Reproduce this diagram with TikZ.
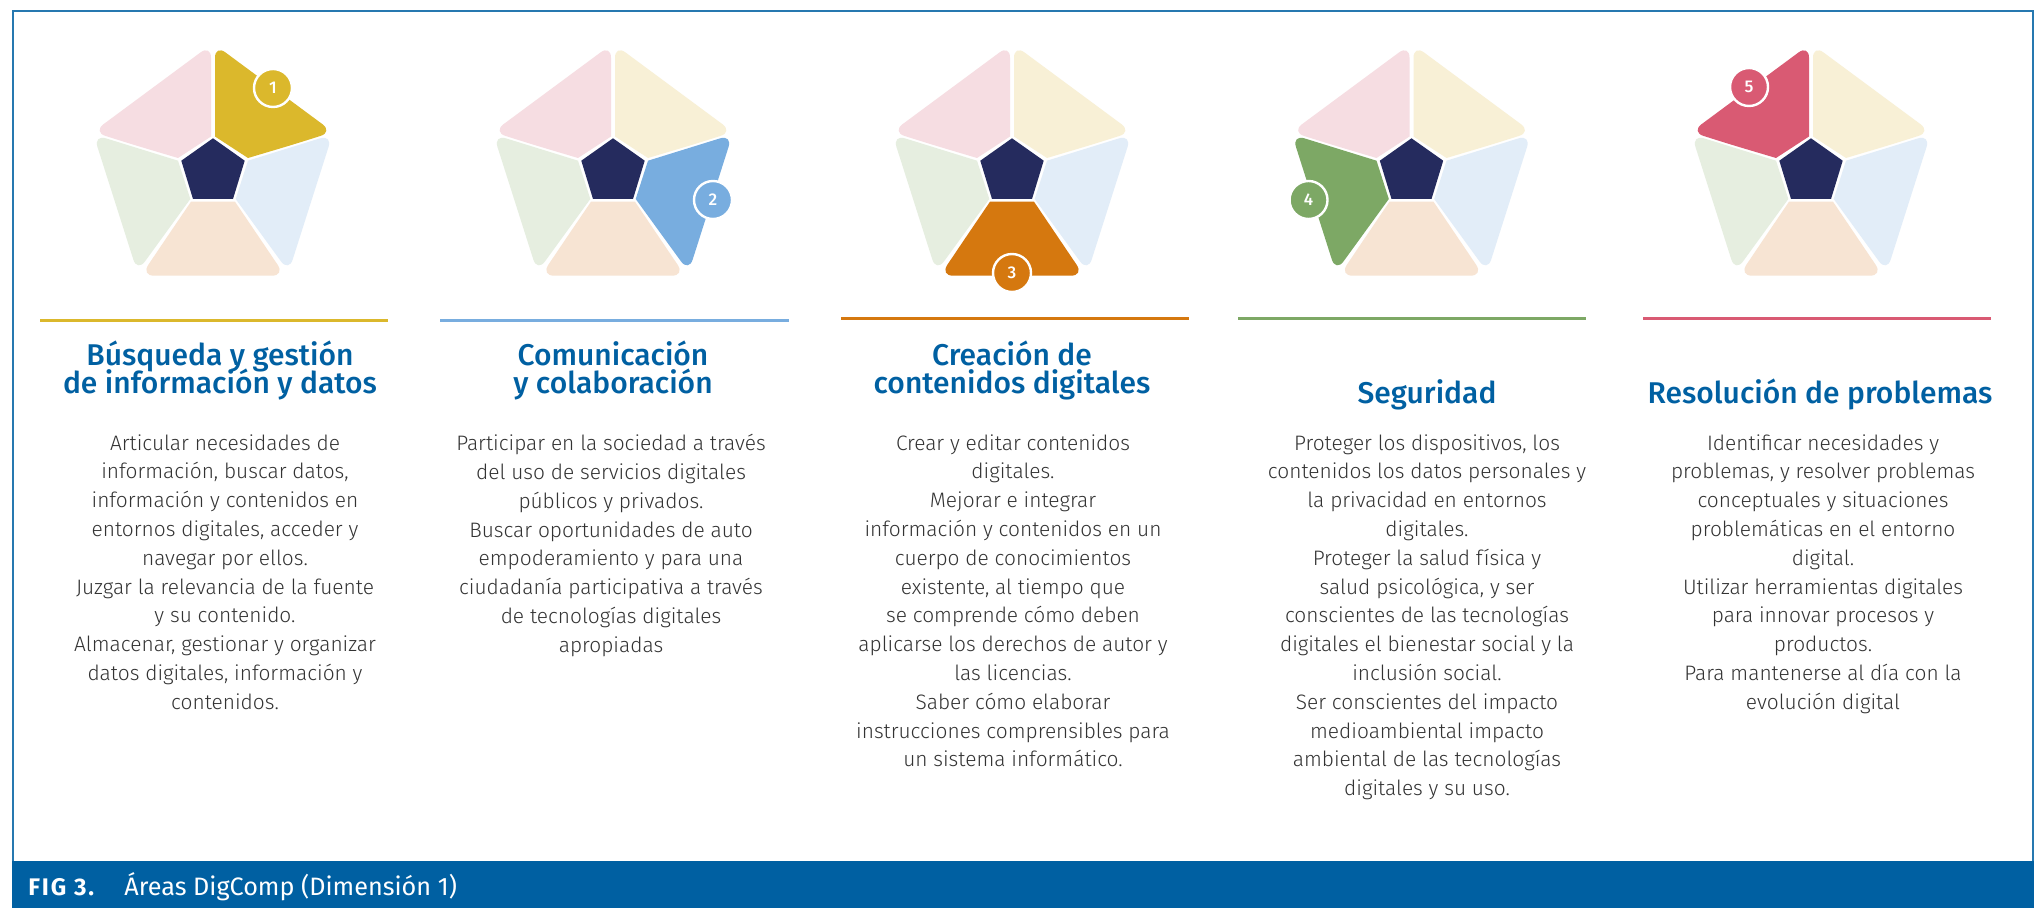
\documentclass[tikz,border=0pt]{standalone}
\usepackage{fontspec}
\setmainfont{Fira Sans Light}
\newfontfamily\regfont{Fira Sans}
\newfontfamily\medfont{Fira Sans Medium}
\newfontfamily\figfont{Fira Sans}[LetterSpace=8]
\setlength{\lineskiplimit}{-20pt}
\definecolor{cA}{HTML}{DBB82C}
\definecolor{cB}{HTML}{78ADDF}
\definecolor{cC}{HTML}{D5780F}
\definecolor{cD}{HTML}{7DA865}
\definecolor{cE}{HTML}{D95A73}
\definecolor{pA}{HTML}{F8F0D6}
\definecolor{pB}{HTML}{E2EDF8}
\definecolor{pC}{HTML}{F7E4D3}
\definecolor{pD}{HTML}{E6EEE0}
\definecolor{pE}{HTML}{F6DDE2}
\definecolor{navy}{HTML}{252B5E}
\definecolor{euBlue}{HTML}{0060A2}
\definecolor{bodyGray}{HTML}{333333}
\tikzset{
  badge/.style={circle,draw=white,line width=1.2pt,minimum size=19pt,inner sep=0pt,text=white,font=\medfont\fontsize{8.5}{9}\selectfont},
  titletext/.style={anchor=north,align=center,inner sep=0pt,text=euBlue,font=\medfont\fontsize{15}{14}\selectfont},
  bodytext/.style={anchor=north,align=center,inner sep=0pt,text=bodyGray,font=\fontsize{10.45}{14.4}\selectfont},
  rulebar/.style={line width=1.3pt},
  round/.style={rounded corners=6.5pt}
}
\newcommand{\icon}[6]{% cx, A,B,C,D,E
 \begin{scope}[xshift=#1*0.5pt]
  \fill[#2] (2,136.5) [round] -- (2,44.7) -- (120,132) -- (80,144.6) [sharp corners] -- (35,158) -- cycle;
  \fill[#3] (35,160.7) [round] -- (119.5,134.5) -- (75.7,272) -- (50,236.6) [sharp corners] -- (22.7,199) -- cycle;
  \fill[#4] (22,201.7) [round] -- (72,275.7) -- (-72,275.7) -- (-50,243) [sharp corners] -- (-22,201.7) -- cycle;
  \fill[#5] (-35,160.7) [round] -- (-119.5,134.5) -- (-75.7,272) -- (-50,236.6) [sharp corners] -- (-22.7,199) -- cycle;
  \fill[#6] (-2,136.5) [round] -- (-2,44.7) -- (-120,132) -- (-80,144.6) [sharp corners] -- (-35,158) -- cycle;
  \fill[navy] (0,138.3) -- (31.7,160.7) -- (20,199) -- (-20,199) -- (-31.7,160.7) -- cycle;
 \end{scope}}
\begin{document}
\begin{tikzpicture}[x=0.5pt,y=-0.5pt]
\useasboundingbox (0,0) rectangle (2038,908);
\fill[white] (0,0) rectangle (2038,908);
\draw[color=euBlue!85!white,line width=1pt] (13,11) rectangle (2033,870);
\fill[euBlue] (12,861) rectangle (2033.5,908);
\node[anchor=base west,inner sep=0pt,text=white,font=\figfont\bfseries\fontsize{12}{14}\selectfont] (figlab) at (28,895) {FIG 3.};
\node[anchor=base west,inner sep=0pt,text=white,font=\regfont\fontsize{12.6}{14}\selectfont] (figcap) at (124,895) {Áreas DigComp (Dimensión 1)};

\icon{213}{cA}{pB}{pC}{pD}{pE}
\icon{613}{pA}{cB}{pC}{pD}{pE}
\icon{1012}{pA}{pB}{cC}{pD}{pE}
\icon{1411.5}{pA}{pB}{pC}{cD}{pE}
\icon{1811}{pA}{pB}{pC}{pD}{cE}

\node[badge,fill=cA] (b1) at (273,88) {1};
\node[badge,fill=cB] (b2) at (713,200) {2};
\node[badge,fill=cC] (b3) at (1012,273) {3};
\node[badge,fill=cD] (b4) at (1308.5,200) {4};
\node[badge,fill=cE] (b5) at (1749,87) {5};

\draw[rulebar,cA] (40,320.5) -- (388,320.5);
\draw[rulebar,cB] (440,320.5) -- (789,320.5);
\draw[rulebar,cC] (841,318.5) -- (1189,318.5);
\draw[rulebar,cD] (1238,318.5) -- (1586,318.5);
\draw[rulebar,cE] (1643,318.5) -- (1991,318.5);

\node[titletext] (t1) at (220,341) {Búsqueda y gestión\\de información y datos};
\node[titletext] (t2) at (613,341) {Comunicación\\y colaboración};
\node[titletext] (t3) at (1012,341) {Creación de\\contenidos digitales};
\node[titletext] (t4) at (1427,379) {Seguridad};
\node[titletext] (t5) at (1820,379) {Resolución de problemas};

\node[bodytext] (d1) at (225,434) {Articular necesidades de\\información, buscar datos,\\información y contenidos en\\entornos digitales, acceder y\\navegar por ellos.\\Juzgar la relevancia de la fuente\\y su contenido.\\Almacenar, gestionar y organizar\\datos digitales, información y\\contenidos.};
\node[bodytext] (d2) at (611,434) {Participar en la sociedad a través\\del uso de servicios digitales\\públicos y privados.\\Buscar oportunidades de auto\\empoderamiento y para una\\ciudadanía participativa a través\\de tecnologías digitales\\apropiadas};
\node[bodytext] (d3) at (1013,434) {Crear y editar contenidos\\digitales.\\Mejorar e integrar\\información y contenidos en un\\cuerpo de conocimientos\\existente, al tiempo que\\se comprende cómo deben\\aplicarse los derechos de autor y\\las licencias.\\Saber cómo elaborar\\instrucciones comprensibles para\\un sistema informático.};
\node[bodytext] (d4) at (1427,434) {Proteger los dispositivos, los\\contenidos los datos personales y\\la privacidad en entornos\\digitales.\\Proteger la salud física y\\salud psicológica, y ser\\conscientes de las tecnologías\\digitales el bienestar social y la\\inclusión social.\\Ser conscientes del impacto\\medioambiental impacto\\ambiental de las tecnologías\\digitales y su uso.};
\node[bodytext] (d5) at (1823,434) {Identificar necesidades y\\problemas, y resolver problemas\\conceptuales y situaciones\\problemáticas en el entorno\\digital.\\Utilizar herramientas digitales\\para innovar procesos y\\productos.\\Para mantenerse al día con la\\evolución digital};
\end{tikzpicture}
\end{document}
